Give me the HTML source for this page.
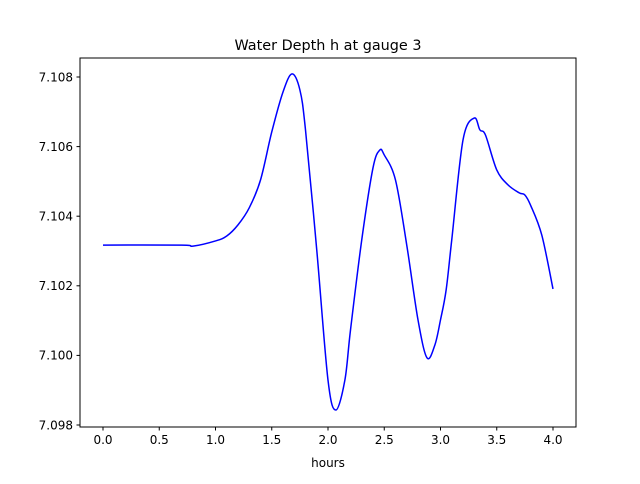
<!DOCTYPE html>
<html><head><meta charset="utf-8"><style>
body{margin:0;background:#fff;font-family:"DejaVu Sans","Liberation Sans",sans-serif;}
svg text{font-family:"DejaVu Sans","Liberation Sans",sans-serif;}
</style></head><body>
<svg id="chart" width="640" height="480" xmlns="http://www.w3.org/2000/svg">
<rect width="640" height="480" fill="#fff"/>
<text x="328" y="50" font-size="14.4" text-anchor="middle">Water Depth h at gauge 3</text>
<g id="plot"></g>
<rect x="80" y="58" width="496" height="369" fill="none" stroke="#000" stroke-width="1"/>
<text x="328" y="467" font-size="12" text-anchor="middle">hours</text>
</svg>
<script>
const hours=[0,0.7,0.8,1.0,1.1,1.2,1.3,1.4,1.5,1.6,1.68,1.75,1.8,1.9,2.0,2.07,2.15,2.2,2.3,2.4,2.46,2.5,2.6,2.7,2.8,2.88,2.95,3.0,3.05,3.1,3.2,3.3,3.35,3.4,3.5,3.6,3.7,3.75,3.8,3.9,4.0];
const depth=[7.10317,7.10317,7.10314,7.10329,7.10343,7.10375,7.10424,7.10504,7.10642,7.10757,7.10809,7.10763,7.10648,7.10303,7.09929,7.09843,7.09929,7.10073,7.10332,7.10539,7.10590,7.10576,7.10504,7.10317,7.10102,7.09993,7.1003,7.10102,7.10188,7.10332,7.10619,7.10682,7.10648,7.10633,7.10533,7.1049,7.10467,7.10461,7.10432,7.10346,7.10191];
const xTicks=[0,0.5,1,1.5,2,2.5,3,3.5,4];
const xTickLabels=["0.0","0.5","1.0","1.5","2.0","2.5","3.0","3.5","4.0"];
const yTicks=[7.098,7.100,7.102,7.104,7.106,7.108];
const yTickLabels=["7.098","7.100","7.102","7.104","7.106","7.108"];
const NS="http://www.w3.org/2000/svg";
const xs=v=>103+v*112.5;
const ys=v=>77+(7.108-v)*34800;
const g=document.getElementById('plot');
function mk(t,a){const e=document.createElementNS(NS,t);for(const k in a)e.setAttribute(k,a[k]);g.appendChild(e);return e;}
xTicks.forEach((v,i)=>{
 const l=mk('line',{x1:xs(v),x2:xs(v),y1:427,y2:430.5,stroke:'#000'});
 
 
 const t=mk('text',{x:xs(v),y:444,'font-size':12,'text-anchor':'middle'});t.textContent=xTickLabels[i];
 
 
});
yTicks.forEach((v,i)=>{
 const l=mk('line',{x1:76.5,x2:80,y1:ys(v),y2:ys(v),stroke:'#000'});
 
 
 const t=mk('text',{x:73,y:ys(v)+4.3,'font-size':12,'text-anchor':'end'});t.textContent=yTickLabels[i];
 
 
});
const P=hours.map((h,i)=>[xs(h),ys(depth[i])]);
let d='M'+P[0][0]+','+P[0][1];
for(let i=0;i<P.length-1;i++){
 const p0=P[Math.max(0,i-1)],p1=P[i],p2=P[i+1],p3=P[Math.min(P.length-1,i+2)];
 const c1=[p1[0]+(p2[0]-p0[0])/6,p1[1]+(p2[1]-p0[1])/6];
 const c2=[p2[0]-(p3[0]-p1[0])/6,p2[1]-(p3[1]-p1[1])/6];
 d+=`C${c1[0]},${c1[1]} ${c2[0]},${c2[1]} ${p2[0]},${p2[1]}`;
}
const line=mk('path',{d:d,fill:'none',stroke:'#0000ff','stroke-width':1.5});


</script>
</body></html>
